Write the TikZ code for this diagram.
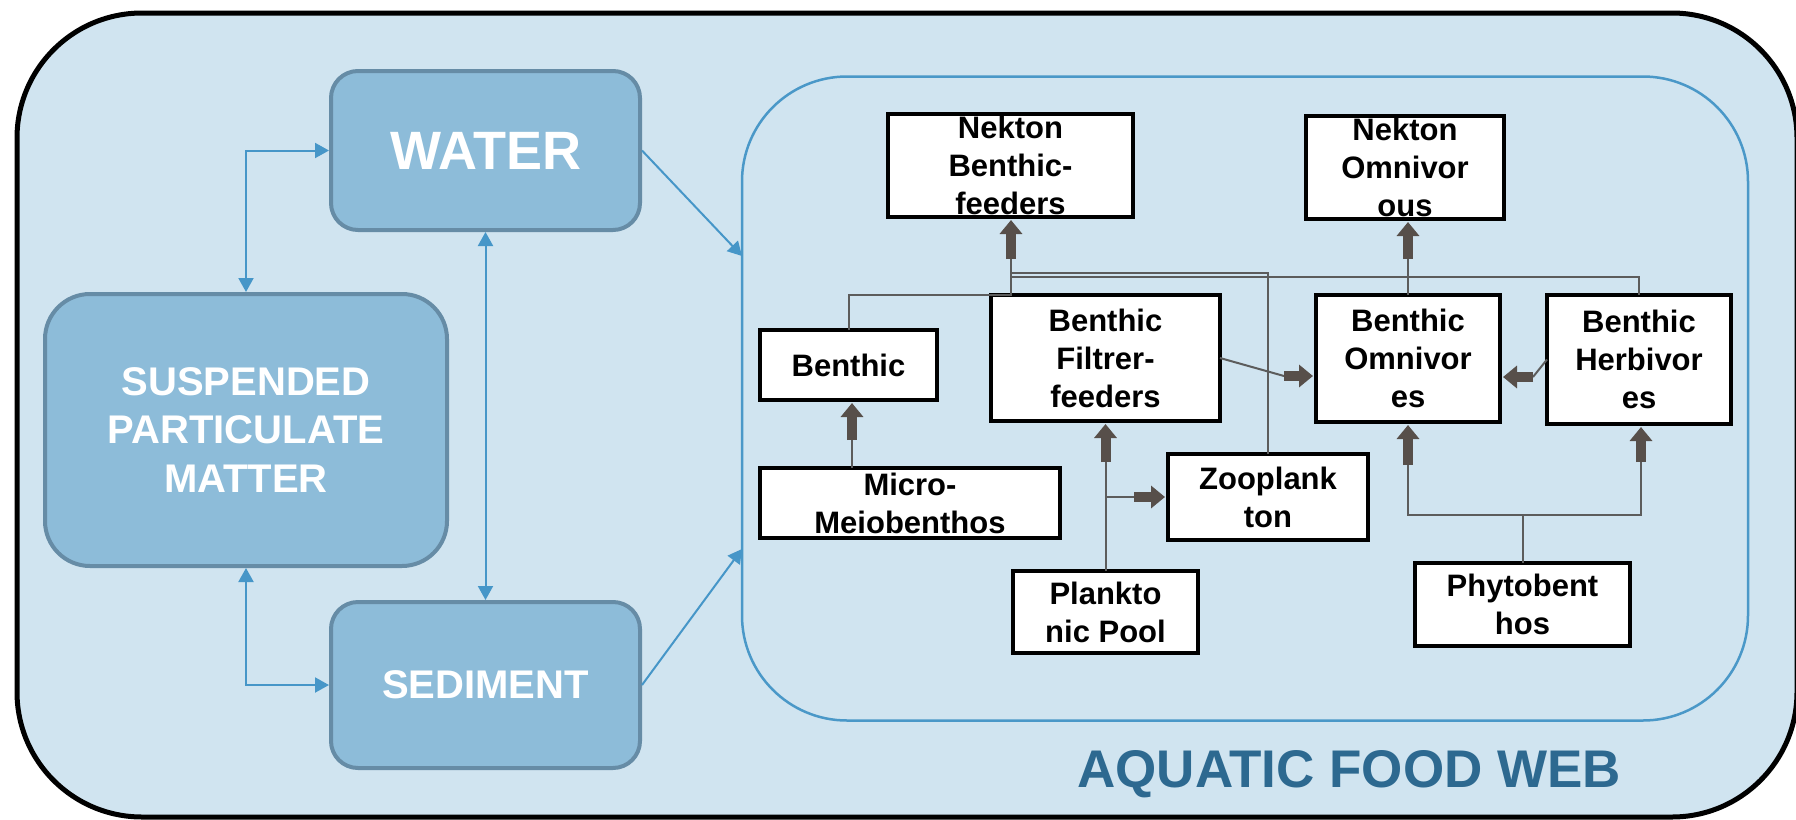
\documentclass[tikz,border=0pt]{standalone}
\usepackage{fontspec}
\setmainfont{Liberation Sans}
\usetikzlibrary{arrows.meta,calc}
\definecolor{bgblue}{HTML}{D0E4F0}
\definecolor{boxfill}{HTML}{8DBCD9}
\definecolor{boxborder}{HTML}{668CA6}
\definecolor{bluearrow}{HTML}{4696C8}
\definecolor{innerline}{HTML}{4A98C8}
\definecolor{fatc}{HTML}{574F4A}
\definecolor{thinc}{HTML}{5C5C5C}
\definecolor{titlec}{HTML}{2D6990}
\begin{document}
\begin{tikzpicture}[x=0.5pt,y=-0.5pt,
  lbox/.style={draw=boxborder,fill=boxfill,line width=2pt,rounded corners=13.5pt,text=white,
    font=\bfseries\fontsize{20pt}{24.25pt}\selectfont,align=center,inner sep=0pt,outer sep=1pt},
  fwbox/.style={draw=black,fill=white,line width=2.25pt,inner sep=0pt,outer sep=0pt,align=center,
    font=\bfseries\fontsize{15.5pt}{19pt}\selectfont},
  bluearr/.style={draw=bluearrow,line width=1pt,{Triangle[length=7pt,width=7.5pt]}-{Triangle[length=7pt,width=7.5pt]}},
  onearr/.style={draw=bluearrow,line width=1pt,-{Triangle[length=7pt,width=7.5pt]}},
  thinl/.style={draw=thinc,line width=1pt},
  fat/.style={draw=fatc,line width=5pt,-{Triangle[length=7pt,width=11pt]},shorten >=1.5pt}
]
\useasboundingbox (0,0) rectangle (1796,820);
% outer frame
\draw[line width=2.5pt,fill=bgblue,rounded corners=62.5pt] (17,13) rectangle (1797,817);
% food web frame
\node[draw=innerline,line width=1.25pt,rounded corners=52.5pt,minimum width=503pt,minimum height=322pt,inner sep=0pt,outer sep=0pt] (web) at (1245,398.5) {};

% left boxes
\node[lbox,minimum width=154.5pt,minimum height=79.5pt,font=\bfseries\fontsize{27pt}{32pt}\selectfont] (wat) at (485.5,150.5) {WATER};
\node[lbox,rounded corners=22.5pt,minimum width=201pt,minimum height=136pt] (sus) at (246,430) {SUSPENDED\\PARTICULATE\\MATTER};
\node[lbox,minimum width=154.5pt,minimum height=83pt] (sed) at (485.5,685) {SEDIMENT};

\draw[bluearr] (sus.north) |- (wat.west);
\draw[bluearr] (sus.south) |- (sed.west);
\draw[bluearr] (wat.south) -- (sed.north);
\draw[onearr] (wat.east) -- ([yshift=71.25pt]web.west);
\draw[onearr] (sed.east) -- ([yshift=-75.25pt]web.west);

% food web boxes
\node[fwbox,minimum width=122.5pt,minimum height=51.5pt] (nbf) at (1010.5,165.5) {Nekton\\Benthic-\\feeders};
\node[fwbox,minimum width=99pt,minimum height=51.5pt] (nom) at (1405,167.5) {Nekton\\Omnivor\\ous};
\node[fwbox,minimum width=88.5pt,minimum height=35pt] (ben) at (848.5,365) {Benthic};
\node[fwbox,minimum width=114.5pt,minimum height=63pt] (fil) at (1105.5,358) {Benthic\\Filtrer-\\feeders};
\node[fwbox,minimum width=92pt,minimum height=63.5pt] (omn) at (1408,358.5) {Benthic\\Omnivor\\es};
\node[fwbox,minimum width=92pt,minimum height=64.5pt] (her) at (1639,359.5) {Benthic\\Herbivor\\es};
\node[fwbox,minimum width=150pt,minimum height=35pt] (mic) at (910,503) {Micro-\\Meiobenthos};
\node[fwbox,minimum width=100pt,minimum height=43pt] (zoo) at (1268,497) {Zooplank\\ton};
\node[fwbox,minimum width=92.5pt,minimum height=41pt] (pla) at (1105.5,612) {Plankto\\nic Pool};
\node[fwbox,minimum width=107.5pt,minimum height=41.5pt] (phy) at (1522.5,604.5) {Phytobent\\hos};

\node[text=titlec,font=\bfseries\fontsize{26.5pt}{30pt}\selectfont,anchor=base west,inner sep=0pt] (title) at (1077,787) {AQUATIC FOOD WEB};

% junctions
\coordinate (jNBF) at (1011,259);
\coordinate (jNO) at (1408,259);
\coordinate (jMB) at (852,440);
\coordinate (jPF) at (1105.5,462);
\coordinate (jPZ) at (1134,497);
\coordinate (jFO) at (1284,376);
\coordinate (jHO) at (1533,377);
\coordinate (jPO) at (1408,465);
\coordinate (jPH) at (1641,462);
\coordinate (pj) at (1522.5,515);

% thin links
\draw[thinl] (ben.north) |- (fil.north -| jNBF) -- (jNBF);
\draw[thinl] (zoo.north) |- ($(jNBF)+(0,14)$);
\draw[thinl] (her.north) |- ($(jNBF)+(0,18)$);
\draw[thinl] (omn.north) -- (jNO);
\draw[thinl] (mic.north -| jMB) -- (jMB);
\draw[thinl] (pla.north) -- (jPF);
\draw[thinl] (pla.north |- jPZ) -- (jPZ);
\draw[thinl] (fil.east) -- (jFO);
\draw[thinl] (her.west) -- (jHO);
\draw[thinl] (phy.north) -- (pj);
\draw[thinl] (jPO) |- (pj) -| (jPH);

% fat arrows
\draw[fat] (jNBF) -- (jNBF |- nbf.south);
\draw[fat] (jNO) -- (jNO |- nom.south);
\draw[fat] (jMB) -- (jMB |- ben.south);
\draw[fat] (jPF) -- (fil.south);
\draw[fat] (jPZ) -- (zoo.west);
\draw[fat] (jFO) -- (jFO -| omn.west);
\draw[fat] (jHO) -- (jHO -| omn.east);
\draw[fat] (jPO) -- (jPO |- omn.south);
\draw[fat] (jPH) -- (jPH |- her.south);
\end{tikzpicture}
\end{document}
